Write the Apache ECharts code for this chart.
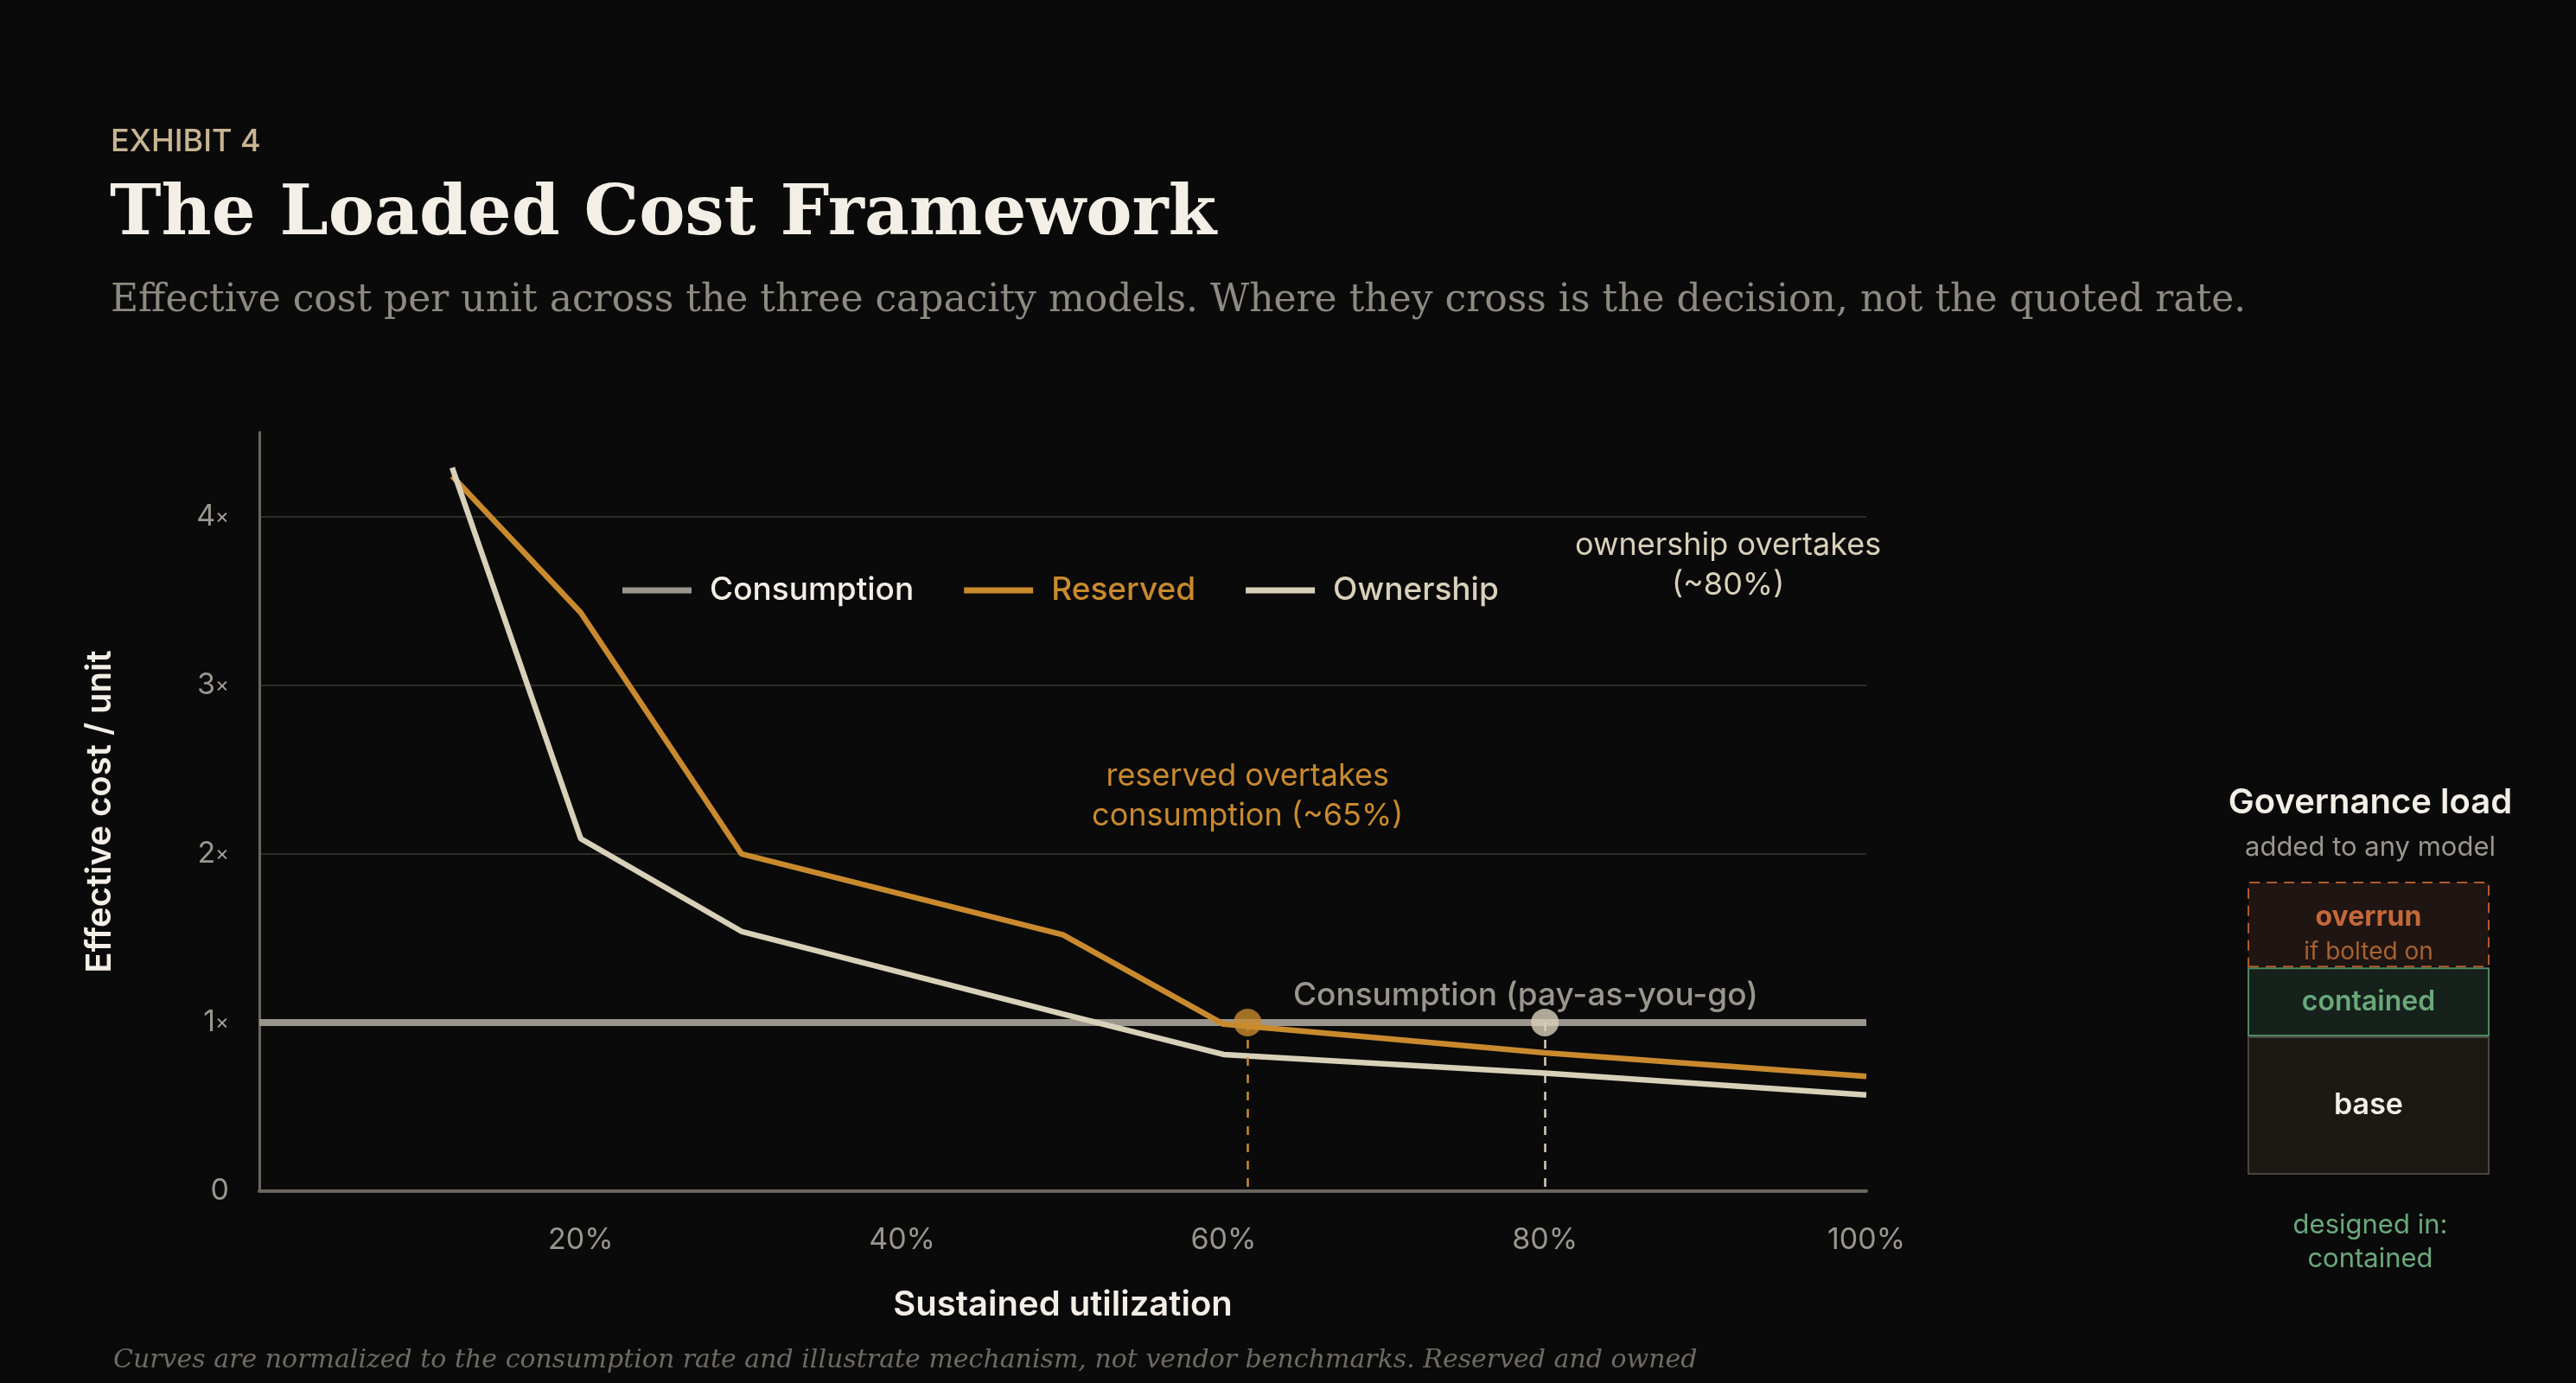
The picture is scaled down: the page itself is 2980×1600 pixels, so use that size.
<!DOCTYPE html>
<html>
<head>
<meta charset="utf-8">
<title>The Loaded Cost Framework</title>
<script src="https://cdn.jsdelivr.net/npm/echarts@6/dist/echarts.min.js"></script>
<style>
html, body { margin: 0; padding: 0; background: #0a0a0a; }
#container { width: 2980px; height: 1600px; }
</style>
</head>
<body>
<div id="container"></div>
<script>
// effective cost per unit (x = sustained utilization %, y = multiple of consumption rate)
var consumption = [[0, 1], [100, 1]];
var reserved = [[12, 4.24], [20, 3.43], [30, 2.0], [50, 1.52], [60, 0.99], [80, 0.82], [100, 0.68]];
var ownership = [[12, 4.29], [20, 2.09], [30, 1.54], [50, 1.05], [60, 0.81], [80, 0.70], [100, 0.57]];

// crossover points on the consumption line
var crossReserved = [61.5, 1];
var crossOwnership = [80, 1];

// tick labels
var xTicks = [20, 40, 60, 80, 100];
var yTicks = [0, 1, 2, 3, 4];

// governance load stack (relative heights)
var loadParts = ['base', 'contained', 'overrun'];
var loadValues = [1.0, 0.5, 0.62];

var sans = 'Inter, "Noto Sans", sans-serif';
var serif = '"DejaVu Serif", serif';
var gray = '#9a968e', orange = '#c98a2e', cream = '#d9d0b9', white = '#f3efe6';
var green = '#6aa87a', rust = '#c4683a';

var dom = document.getElementById('container');
var myChart = echarts.init(dom, null, { renderer: 'canvas' });

function note(coord, text, color, size, weight) {
	return {
		silent: true,
		symbol: 'circle',
		symbolSize: 1,
		itemStyle: { color: 'rgba(0,0,0,0)' },
		data: [{
			coord: coord,
			label: {
				show: true,
				position: 'inside',
				formatter: text,
				color: color,
				fontFamily: sans,
				fontSize: size,
				fontWeight: weight,
				lineHeight: 46,
				align: 'center'
			}
		}]
	};
}

var loadStyles = [
	{ color: '#1c1814', borderColor: '#4a463f', borderType: 'solid' },
	{ color: '#16211c', borderColor: '#4d8a62', borderType: 'solid' },
	{ color: '#1f1512', borderColor: '#b35a2c', borderType: [12, 8] }
];
var loadLabels = [
	{ formatter: '{a|base}', offset: [0, 0], rich: { a: { color: white, fontSize: 34, fontWeight: 600, fontFamily: sans } } },
	{ formatter: '{a|contained}', offset: [0, 0], rich: { a: { color: green, fontSize: 32, fontWeight: 600, fontFamily: sans } } },
	{ formatter: '{a|overrun}\n{b|if bolted on}', offset: [0, 12], rich: {
		a: { color: rust, fontSize: 32, fontWeight: 700, fontFamily: sans, lineHeight: 40 },
		b: { color: '#a8622f', fontSize: 28, fontFamily: sans, lineHeight: 40 }
	} }
];

var loadSeries = loadParts.map(function(p, i) {
	return {
		name: p,
		type: 'bar',
		xAxisIndex: 1,
		yAxisIndex: 1,
		stack: 'load',
		barWidth: '100%',
		silent: true,
		z: i === 1 ? 3 : 2,
		data: [loadValues[i]],
		itemStyle: {
			color: loadStyles[i].color,
			borderColor: loadStyles[i].borderColor,
			borderWidth: 2,
			borderType: loadStyles[i].borderType
		},
		label: {
			show: true,
			position: 'inside',
			offset: loadLabels[i].offset,
			formatter: loadLabels[i].formatter,
			rich: loadLabels[i].rich
		}
	};
});

var option = {
	backgroundColor: '#0a0a0a',
	animation: false,
	title: [
		{ text: 'EXHIBIT 4', left: 123, top: 141, textStyle: { color: '#c8b592', fontFamily: sans, fontSize: 36, fontWeight: 500 } },
		{ text: 'The Loaded Cost Framework', left: 122, top: 205, textStyle: { color: white, fontFamily: serif, fontSize: 80, fontWeight: 'bold' } },
		{ text: 'Effective cost per unit across the three capacity models. Where they cross is the decision, not the quoted rate.',
			left: 123, top: 322, textStyle: { color: '#8e8a82', fontFamily: serif, fontSize: 44, fontWeight: 'normal' } },
		{ text: 'Curves are normalized to the consumption rate and illustrate mechanism, not vendor benchmarks. Reserved and owned',
			left: 126, top: 1554, textStyle: { color: '#6e6a63', fontFamily: serif, fontSize: 30, fontStyle: 'italic', fontWeight: 'normal' } },
		{ text: 'Governance load', left: 2737, top: 904, textAlign: 'center', textStyle: { color: white, fontFamily: sans, fontSize: 40, fontWeight: 600 } },
		{ text: 'added to any model', left: 2737, top: 960, textAlign: 'center', textStyle: { color: gray, fontFamily: sans, fontSize: 31, fontWeight: 'normal' } },
		{ text: 'designed in:\ncontained', left: 2737, top: 1393, textAlign: 'center', textStyle: { color: green, fontFamily: sans, fontSize: 31, fontWeight: 'normal', lineHeight: 39 } }
	],
	legend: {
		left: 715,
		top: 658,
		selectedMode: false,
		icon: 'rect',
		itemWidth: 80,
		itemHeight: 7,
		itemGap: 58,
		textStyle: { fontFamily: sans, fontSize: 37, fontWeight: 500, lineHeight: 40, padding: [0, 0, 0, 16] },
		data: [
			{ name: 'Consumption', textStyle: { color: white } },
			{ name: 'Reserved', textStyle: { color: orange } },
			{ name: 'Ownership', textStyle: { color: cream } }
		]
	},
	grid: [
		{ left: 300, right: 821, top: 500, bottom: 222 },
		{ left: 2600, width: 280, top: 1020, bottom: 241 }
	],
	xAxis: [{
		gridIndex: 0,
		type: 'value',
		min: 0,
		max: 100,
		interval: 20,
		axisLine: { show: true, lineStyle: { color: '#6b665e', width: 4 } },
		axisTick: { show: false },
		splitLine: { show: false },
		axisLabel: {
			showMinLabel: false,
			margin: 40,
			color: gray,
			fontFamily: sans,
			fontSize: 34,
			formatter: function(v) { return xTicks.indexOf(v) >= 0 ? v + '%' : ''; }
		},
		name: 'Sustained utilization',
		nameLocation: 'middle',
		nameGap: 112,
		nameTextStyle: { color: white, fontFamily: sans, fontSize: 40, fontWeight: 600 }
	}, {
		gridIndex: 1,
		type: 'category',
		data: ['load'],
		show: false
	}],
	yAxis: [{
		gridIndex: 0,
		type: 'value',
		min: 0,
		max: 4.5,
		interval: 1,
		axisLine: { show: true, lineStyle: { color: '#6b665e', width: 3 } },
		axisTick: { show: false },
		splitLine: { show: true, showMinLine: false, showMaxLine: false, lineStyle: { color: '#2c2b26', width: 2 } },
		axisLabel: {
			showMaxLabel: false,
			margin: 35,
			color: gray,
			fontFamily: sans,
			fontSize: 34,
			formatter: function(v) {
				if (yTicks.indexOf(v) < 0) return '';
				return v === 0 ? '0' : v + '{x|×}';
			},
			rich: { x: { fontSize: 24, color: '#a8a49c', fontFamily: sans } }
		},
		name: 'Effective cost / unit',
		nameLocation: 'middle',
		nameGap: 164,
		nameRotate: 90,
		nameTextStyle: { color: white, fontFamily: sans, fontSize: 40, fontWeight: 600 }
	}, {
		gridIndex: 1,
		type: 'value',
		min: 0,
		max: loadValues.reduce(function(a, b) { return a + b; }, 0),
		show: false
	}],
	series: [{
		name: 'Consumption',
		type: 'line',
		data: consumption,
		symbol: 'none',
		lineStyle: { color: gray, width: 8 },
		itemStyle: { color: gray },
		markPoint: note([78.8, 1.16], 'Consumption (pay-as-you-go)', gray, 37, 500)
	}, {
		name: 'Reserved',
		type: 'line',
		data: reserved,
		symbol: 'none',
		lineStyle: { color: orange, width: 6.5 },
		itemStyle: { color: orange },
		markPoint: note([61.5, 2.34], 'reserved overtakes\nconsumption (~65%)', orange, 36, 'normal')
	}, {
		name: 'Ownership',
		type: 'line',
		data: ownership,
		symbol: 'none',
		lineStyle: { color: cream, width: 6.5 },
		itemStyle: { color: cream },
		markPoint: note([91.4, 3.71], 'ownership overtakes\n(~80%)', cream, 36, 'normal')
	}, {
		name: 'crossReserved',
		type: 'scatter',
		data: [crossReserved],
		symbolSize: 32,
		z: 5,
		silent: true,
		itemStyle: { color: orange },
		markLine: {
			silent: true,
			symbol: 'none',
			label: { show: false },
			lineStyle: { color: orange, width: 2.5, type: [10, 10] },
			data: [[{ coord: crossReserved }, { coord: [crossReserved[0], 0] }]]
		}
	}, {
		name: 'crossOwnership',
		type: 'scatter',
		data: [crossOwnership],
		symbolSize: 32,
		z: 5,
		silent: true,
		itemStyle: { color: cream },
		markLine: {
			silent: true,
			symbol: 'none',
			label: { show: false },
			lineStyle: { color: cream, width: 2.5, type: [10, 10] },
			data: [[{ coord: crossOwnership }, { coord: [crossOwnership[0], 0] }]]
		}
	}].concat(loadSeries)
};

if (option && typeof option === "object") {
	myChart.setOption(option, true);
}
</script>
</body>
</html>
